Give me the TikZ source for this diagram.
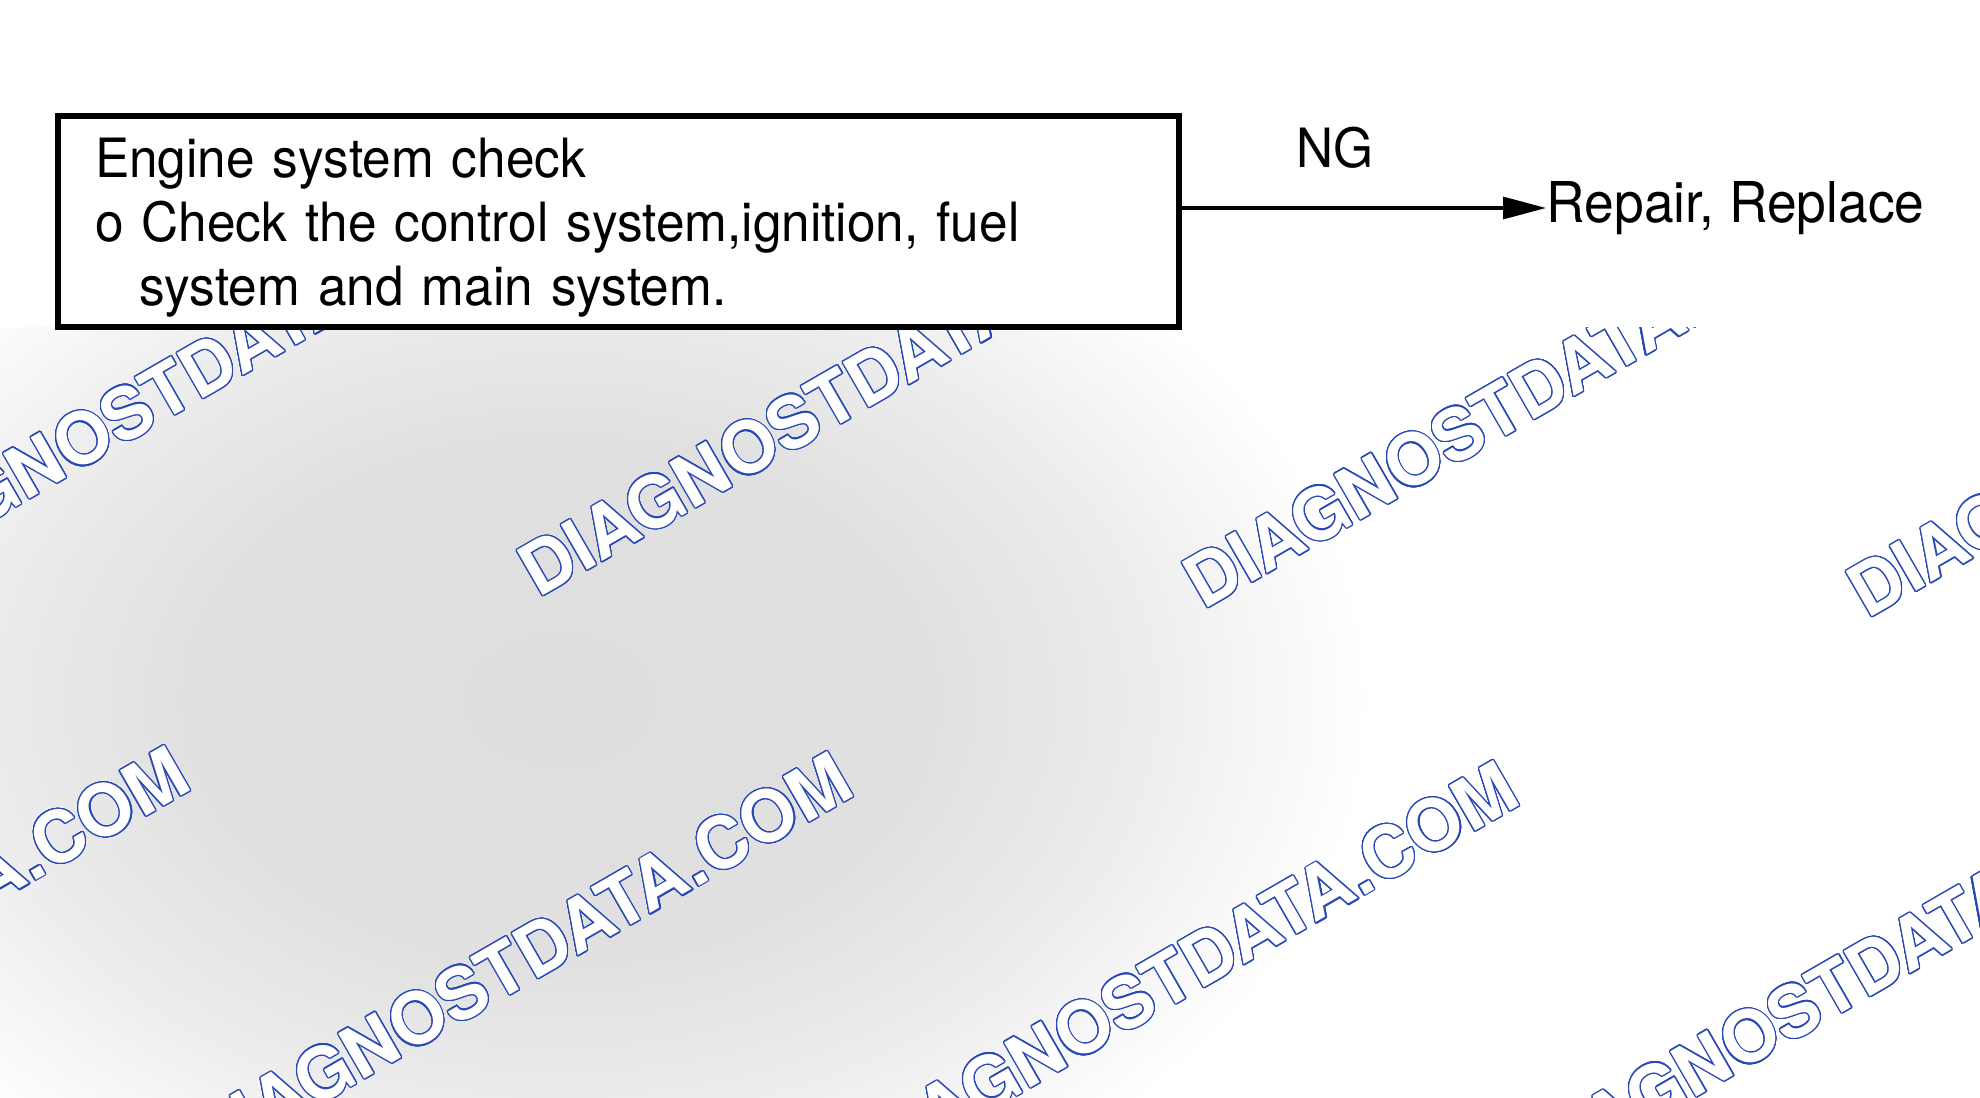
\documentclass[tikz,border=0pt]{standalone}
\usepackage{fontspec}
\usepackage[copies]{contour}
\usetikzlibrary{arrows.meta,positioning}

\newfontfamily\chartfont[FakeStretch=0.948]{TeX Gyre Heros}
\newfontfamily\markfont{TeX Gyre Heros}
\definecolor{markblue}{RGB}{40,72,180}
\pgfdeclareradialshading{grayhaze}{\pgfpoint{0bp}{0bp}}{color(0bp)=(black!13); color(7bp)=(black!12); color(11bp)=(black!7); color(15bp)=(white); color(25bp)=(white); color(50bp)=(white)}
\contourlength{0.35pt}
\contournumber{24}

\tikzset{every node/.style={font=\chartfont\fontsize{15.4}{18.2}\selectfont,inner sep=0pt}}
\tikzset{checkbox/.style={draw,line width=1.7pt,fill=white,outer sep=0pt,align=left,inner xsep=0.37cm}}
\tikzset{watermark/.style={font=\markfont\bfseries\fontsize{20.4}{24}\selectfont,text=white,rotate=30,anchor=base west}}
\newcommand{\markpt}[2]{\node[watermark] at (#1) (#2) {\contour{markblue}{DIAGNOSTDATA.COM}}}

\begin{document}
\begin{tikzpicture}[x=0.01cm,y=-0.01cm]
  \useasboundingbox (0,0) rectangle (1980,1097);
  \fill[white] (0,0) rectangle (1980,1097);

  % watermark background below the chart
  \begin{scope}
    \clip (0,327) rectangle (1980,1097);
    \shade[shading=grayhaze] (560,700) ellipse (1350 and 950);
    \markpt{-128,590}{wm-11};
    \markpt{538,599}{wm-12};
    \markpt{1203,611}{wm-13};
    \markpt{1867,620}{wm-14};
    \markpt{-456,1164}{wm-21};
    \markpt{207,1170}{wm-22};
    \markpt{873,1179}{wm-23};
    \markpt{1539,1188}{wm-24};
  \end{scope}

  \node[checkbox,anchor=north west,minimum height=2.11cm,text width=10.46cm] at (58,116) (check)
    {\rule{0pt}{0.52cm}Engine system check\\
     o Check the control system,ignition, fuel\\
     \hspace*{0.44cm}system and main system.};
  \node[anchor=base] at (1335,168) (ng) {NG};
  \node[anchor=west,font=\chartfont\fontsize{16}{19}\selectfont] at (1546,208) (repair) {Repair, Replace};

  \draw[line width=0.9pt,-{Triangle[length=0.43cm,width=0.22cm]}] (check.east |- repair.west) -- (repair.west);
\end{tikzpicture}
\end{document}
